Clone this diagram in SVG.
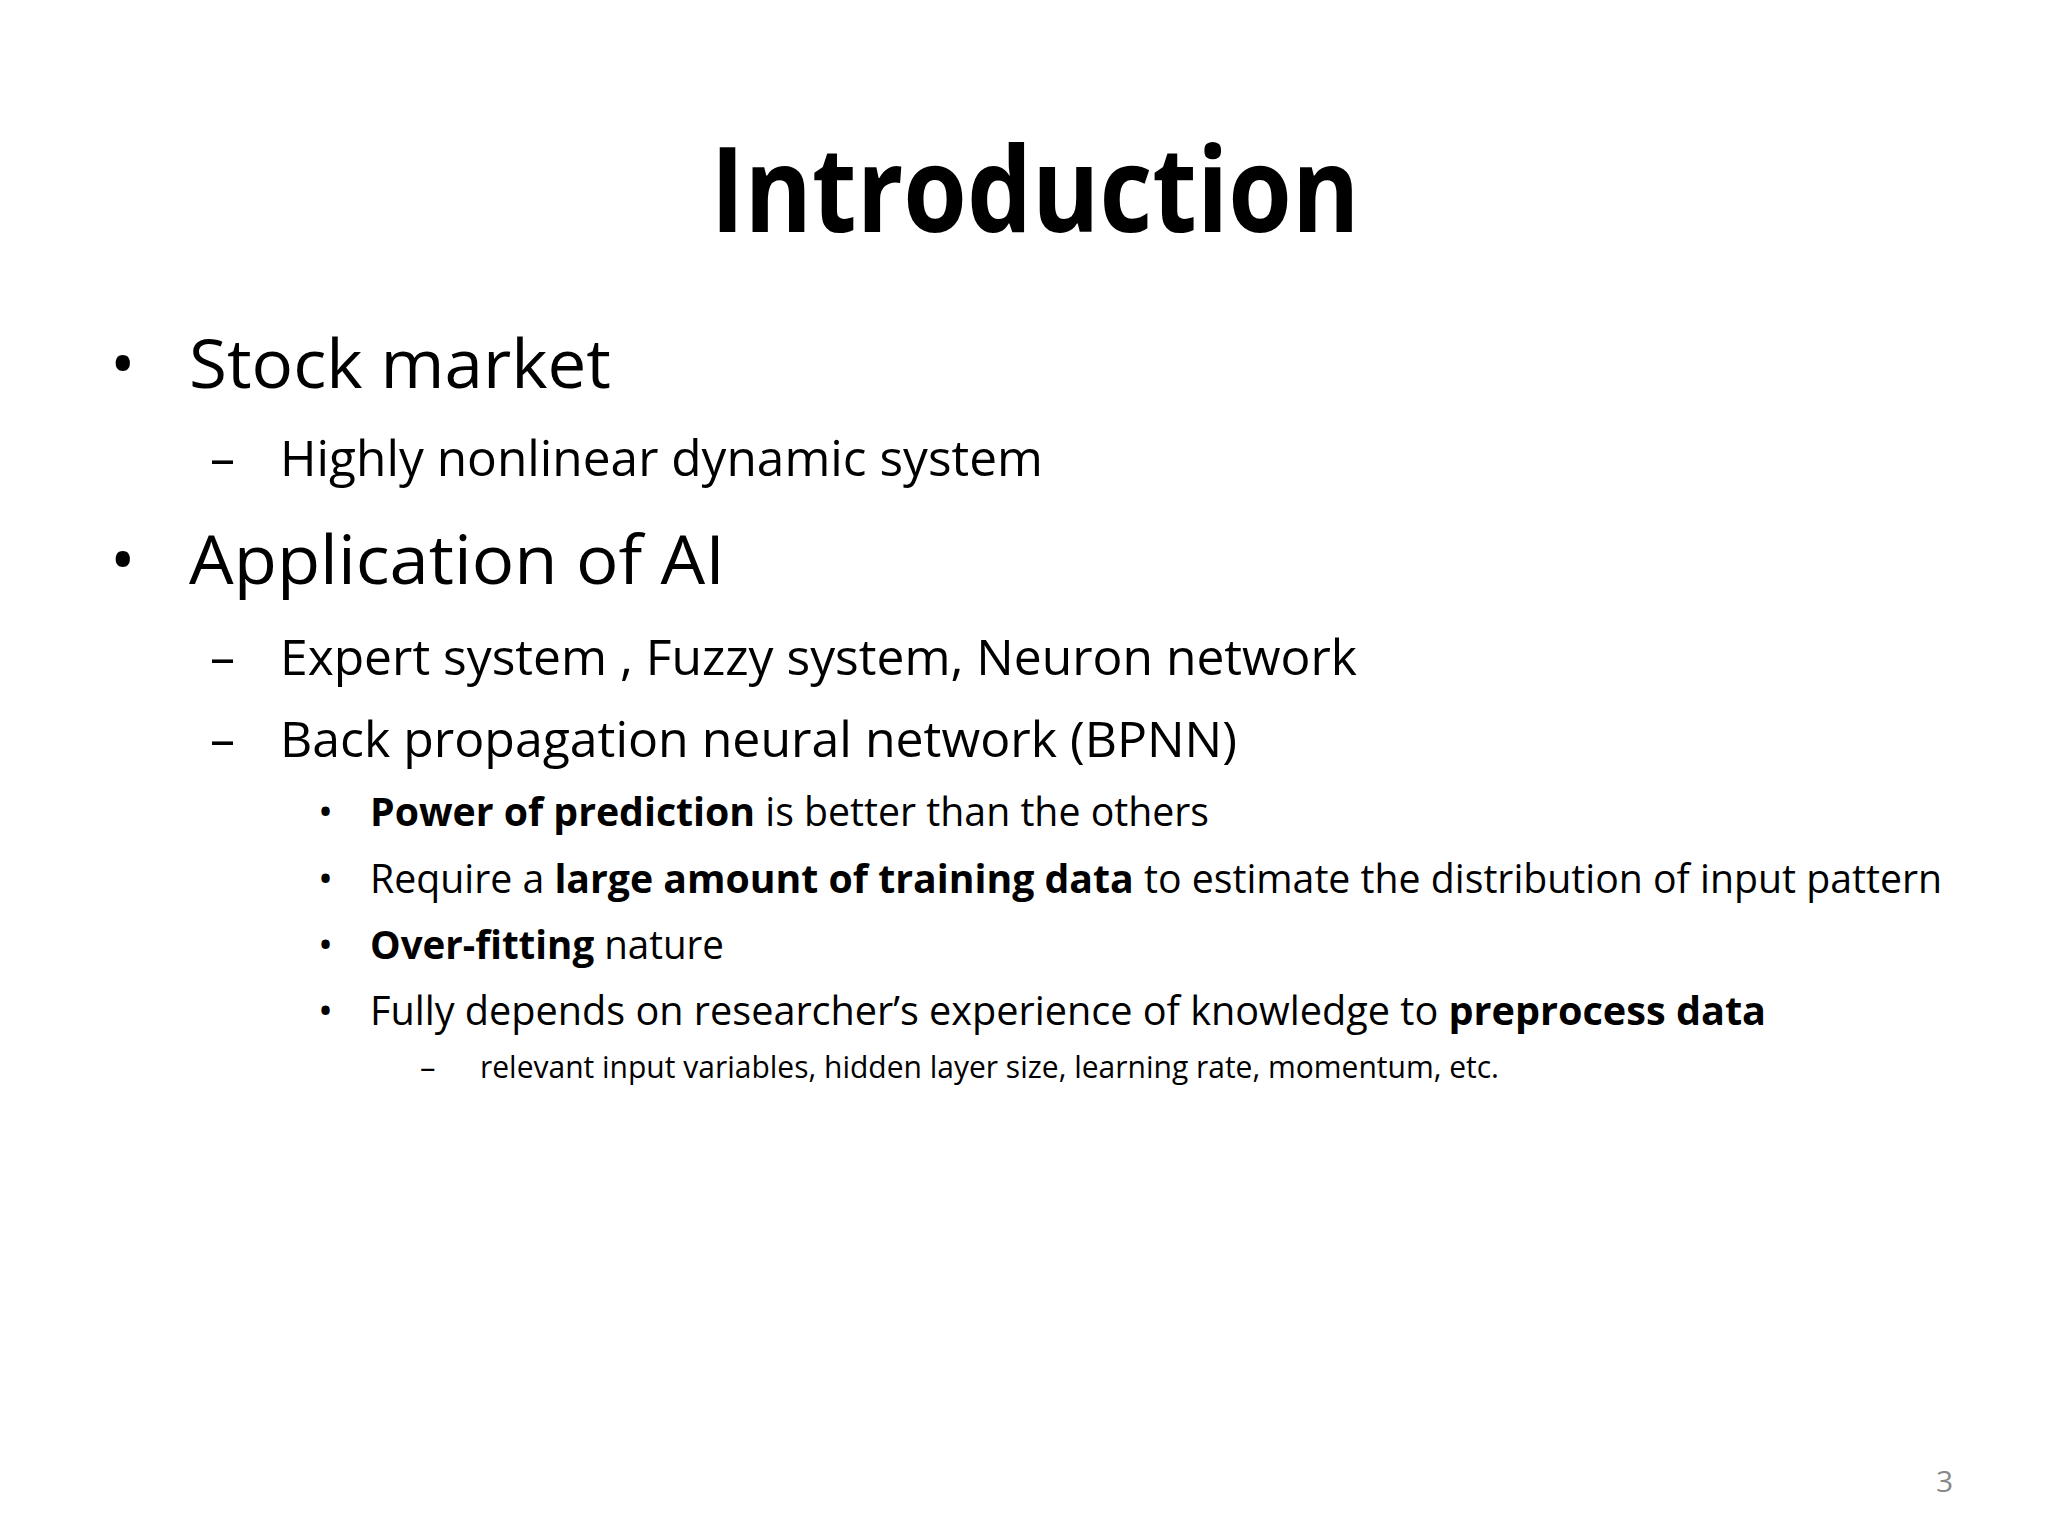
<svg xmlns="http://www.w3.org/2000/svg" width="2048" height="1536" viewBox="0 0 2048 1536">
<style>
text{font-family:"Open Sans","Noto Sans","Liberation Sans",sans-serif;fill:#000}
.b{font-weight:bold}
</style>
<rect width="2048" height="1536" fill="#fff"/>
<text x="1035" y="232" font-size="118" class="b" text-anchor="middle" textLength="649" lengthAdjust="spacingAndGlyphs">Introduction</text>
<g font-size="68">
<text x="110" y="388">•</text>
<text x="189" y="388" textLength="422" lengthAdjust="spacingAndGlyphs">Stock market</text>
<text x="110" y="584">•</text>
<text x="189" y="584" textLength="536" lengthAdjust="spacingAndGlyphs">Application of AI</text>
</g>
<g font-size="50">
<text x="210" y="476">–</text>
<text x="280" y="476" textLength="763" lengthAdjust="spacingAndGlyphs">Highly nonlinear dynamic system</text>
<text x="210" y="675">–</text>
<text x="280" y="675" textLength="1077" lengthAdjust="spacingAndGlyphs">Expert system , Fuzzy system, Neuron network</text>
<text x="210" y="757">–</text>
<text x="280" y="757" textLength="957" lengthAdjust="spacingAndGlyphs">Back propagation neural network (BPNN)</text>
</g>
<g font-size="40">
<text x="318" y="826">•</text>
<text x="370" y="826" textLength="839" lengthAdjust="spacingAndGlyphs"><tspan class="b">Power of prediction</tspan> is better than the others</text>
<text x="318" y="893">•</text>
<text x="370" y="893" textLength="1572" lengthAdjust="spacingAndGlyphs">Require a <tspan class="b">large amount of training data</tspan> to estimate the distribution of input pattern</text>
<text x="318" y="959">•</text>
<text x="370" y="959" textLength="354" lengthAdjust="spacingAndGlyphs"><tspan class="b">Over-fitting</tspan> nature</text>
<text x="318" y="1025">•</text>
<text x="370" y="1025" textLength="1396" lengthAdjust="spacingAndGlyphs">Fully depends on researcher’s experience of knowledge to <tspan class="b">preprocess data</tspan></text>
</g>
<text x="420" y="1078" font-size="31">–</text>
<text x="480" y="1078" font-size="31" textLength="1019" lengthAdjust="spacingAndGlyphs">relevant input variables, hidden layer size, learning rate, momentum, etc.</text>
<text x="1936" y="1492" font-size="30" style="fill:#888">3</text>
</svg>
